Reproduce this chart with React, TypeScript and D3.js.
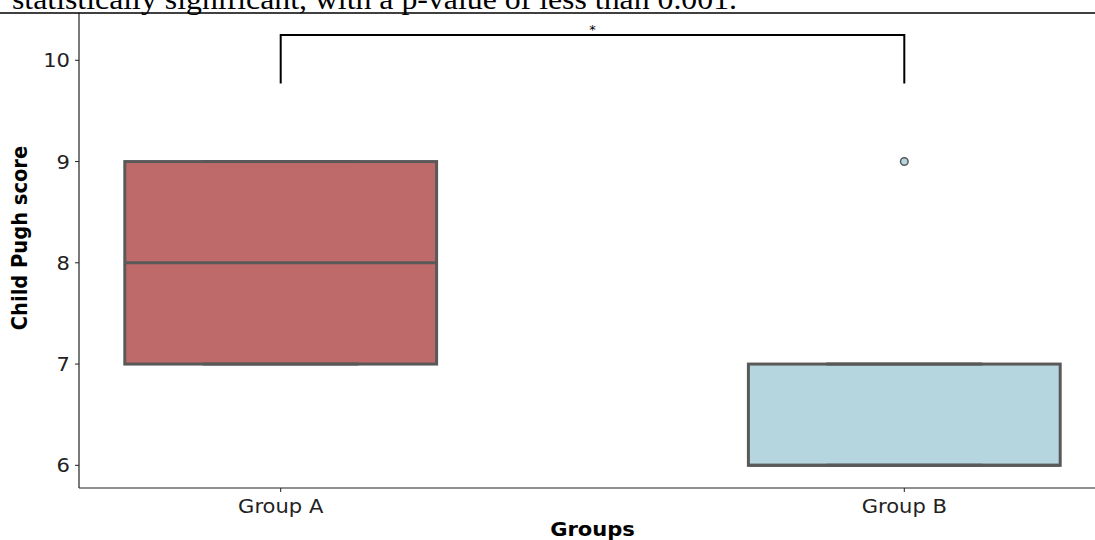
import React from "react";
import * as d3 from "d3";

// Box-plot summary per group
const groups = ["Group A", "Group B"];
const q1 = [7, 6];
const medians = [8, 6];
const q3 = [9, 7];
const whiskerLow = [7, 6];
const whiskerHigh = [9, 7];
const outliers: number[][] = [[], [9]];
const fills = ["#bf6a6a", "#b5d5df"];

const yTicks = [6, 7, 8, 9, 10];
// significance bracket: leg bottom and bar height (data units)
const bracketY = [9.77, 10.25];
const bracketLabel = "*";

const caption = "statistically significant, with a p-value of less than 0.001.";

const W = 1095;
const H = 540;
const EDGE = "#595959";
const SX = 1.08;

export default function App() {
  const x = d3.scaleLinear().domain([0, 1]).range([280.7, 904.3]);
  const y = d3.scaleLinear().domain([5.776, 10.714]).range([488, -12]);
  const left = 79;
  const top = 13;
  const bottom = 488;
  const boxHalf = (x(1) - x(0)) * 0.25;
  const capHalf = boxHalf / 2;

  const hText = (
    tx: number,
    ty: number,
    content: string,
    props: Record<string, any> = {}
  ) => (
    <text transform={`translate(${tx},${ty}) scale(${SX},1)`} {...props}>
      {content}
    </text>
  );

  return (
    <svg
      width={W}
      height={H}
      style={{ position: "absolute", left: 0, top: 0, background: "#fff" }}
      fontFamily="'DejaVu Sans', sans-serif"
    >
      <rect width={W} height={H} fill="#fff" />

      {/* boxes */}
      {groups.map((g, i) => {
        const cx = x(i);
        return (
          <g key={g}>
            <line x1={cx} x2={cx} y1={y(q1[i])} y2={y(whiskerLow[i])} stroke={EDGE} strokeWidth={3} />
            <line x1={cx} x2={cx} y1={y(q3[i])} y2={y(whiskerHigh[i])} stroke={EDGE} strokeWidth={3} />
            <rect
              x={cx - boxHalf}
              y={y(q3[i])}
              width={boxHalf * 2}
              height={y(q1[i]) - y(q3[i])}
              fill={fills[i]}
              stroke={EDGE}
              strokeWidth={3}
            />
            <line x1={cx - capHalf} x2={cx + capHalf} y1={y(whiskerLow[i])} y2={y(whiskerLow[i])} stroke={EDGE} strokeWidth={3} />
            <line x1={cx - capHalf} x2={cx + capHalf} y1={y(whiskerHigh[i])} y2={y(whiskerHigh[i])} stroke={EDGE} strokeWidth={3} />
            <line x1={cx - boxHalf} x2={cx + boxHalf} y1={y(medians[i])} y2={y(medians[i])} stroke={EDGE} strokeWidth={3} />
            {outliers[i].map((v, k) => (
              <circle key={k} cx={cx} cy={y(v)} r={3.8} fill={fills[i]} stroke={EDGE} strokeWidth={1.5} />
            ))}
          </g>
        );
      })}

      {/* significance bracket */}
      <path
        d={`M${x(0)},${y(bracketY[0])}V${y(bracketY[1])}H${x(1)}V${y(bracketY[0])}`}
        fill="none"
        stroke="#000"
        strokeWidth={2}
      />
      <text
        x={(x(0) + x(1)) / 2}
        y={y(bracketY[1]) - 1}
        textAnchor="middle"
        fontSize={13}
        fill="#000"
      >
        {bracketLabel}
      </text>

      {/* axes spines */}
      <line x1={left} x2={left} y1={top} y2={bottom} stroke="#222" strokeWidth={1.2} />
      <line x1={left} x2={W} y1={bottom} y2={bottom} stroke="#222" strokeWidth={1.2} />

      {/* y ticks */}
      {yTicks.map((t) => (
        <g key={t}>
          <line x1={left - 4} x2={left} y1={y(t)} y2={y(t)} stroke="#222" strokeWidth={1} />
          {hText(left - 9, y(t) + 7, String(t), { textAnchor: "end", fontSize: 19.5, fill: "#222" })}
        </g>
      ))}

      {/* x ticks */}
      {groups.map((g, i) => (
        <g key={g}>
          <line x1={x(i)} x2={x(i)} y1={bottom} y2={bottom + 4} stroke="#222" strokeWidth={1} />
          {hText(x(i), 513, g, { textAnchor: "middle", fontSize: 19.5, fill: "#222" })}
        </g>
      ))}

      {/* axis titles */}
      {hText((x(0) + x(1)) / 2, 536, "Groups", {
        textAnchor: "middle",
        fontSize: 19.5,
        fontWeight: "bold",
        fill: "#000",
      })}
      <text
        transform={`translate(27,238) scale(${SX},1) rotate(-90)`}
        textAnchor="middle"
        fontSize={19.5}
        fontWeight="bold"
        fill="#000"
      >
        Child Pugh score
      </text>

      {/* caption strip above the figure */}
      <rect x={0} y={0} width={W} height={top} fill="#fff" />
      <text
        x={12}
        y={9}
        fontFamily="'Liberation Serif', 'Times New Roman', serif"
        fontSize={29}
        fill="#000"
        textLength={725}
        lengthAdjust="spacingAndGlyphs"
      >
        {caption}
      </text>
      <line x1={0} x2={W} y1={top} y2={top} stroke="#000" strokeWidth={1.3} />
    </svg>
  );
}
